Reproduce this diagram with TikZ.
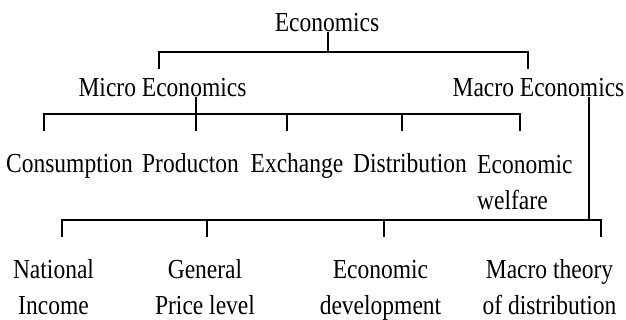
\documentclass[tikz,border=0pt]{standalone}
\usepackage{fontspec}
\setmainfont{Liberation Serif}[FakeStretch=0.855]
\usepackage{tikz}
\usetikzlibrary{calc,positioning}

\tikzset{
  lbl/.style={inner sep=0pt, anchor=base, font=\fontsize{27.5}{36}\selectfont},
  br/.style={line width=1.3pt},
}

\begin{document}
\begin{tikzpicture}[x=1pt,y=-1pt]
\useasboundingbox (0,0) rectangle (626,320);
\node[lbl] (eco) at (327,32) {Economics};
\node[lbl] (micro) at (162.5,97) {Micro Economics};
\node[lbl] (macro) at (538.5,97) {Macro Economics};
\node[lbl] (cons) at (69.5,173) {Consumption};
\node[lbl] (prod) at (190.5,173) {Producton};
\node[lbl] (exch) at (297,173) {Exchange};
\node[lbl] (dist) at (410,173) {Distribution};
\node[lbl, anchor=base west, align=left] (welf) at (477,210) {Economic\\welfare};
\node[lbl, align=center] (nat) at (53.5,314) {National\\Income};
\node[lbl, align=center] (gen) at (205,314) {General\\Price level};
\node[lbl, align=center] (edev) at (380.5,314) {Economic\\development};
\node[lbl, align=center] (mth) at (549.5,314) {Macro theory\\of distribution};
% joints and free ends
\coordinate (j0) at (328,52);
\coordinate (d1) at (159,69);
\coordinate (d2) at (528,69);
\coordinate (j1) at (196,114);
\coordinate (a1) at (44,131);
\coordinate (a2) at (196,131);
\coordinate (a3) at (287,131);
\coordinate (a4) at (402,131);
\coordinate (a5) at (520,131);
\coordinate (j2) at (589,220);
\coordinate (b1) at (62,237);
\coordinate (b2) at (207,237);
\coordinate (b3) at (384,237);
\coordinate (b4) at (601,237);
% economics
\draw[br] (eco.south -| j0) to (j0);
\draw[br] (d1) |- (j0) -| (d2);
% micro
\draw[br] (micro.south -| a2) to (a2);
\draw[br] (a1) -- (a1 |- j1) -- (a5 |- j1) -- (a5);
\draw[br] (a3) to (a3 |- j1);
\draw[br] (a4) to (a4 |- j1);
% macro
\draw[br] (macro.south -| j2) to (j2);
\draw[br] (b1) -- (b1 |- j2) -- (b4 |- j2) -- (b4);
\draw[br] (b2) to (b2 |- j2);
\draw[br] (b3) to (b3 |- j2);
\end{tikzpicture}
\end{document}
